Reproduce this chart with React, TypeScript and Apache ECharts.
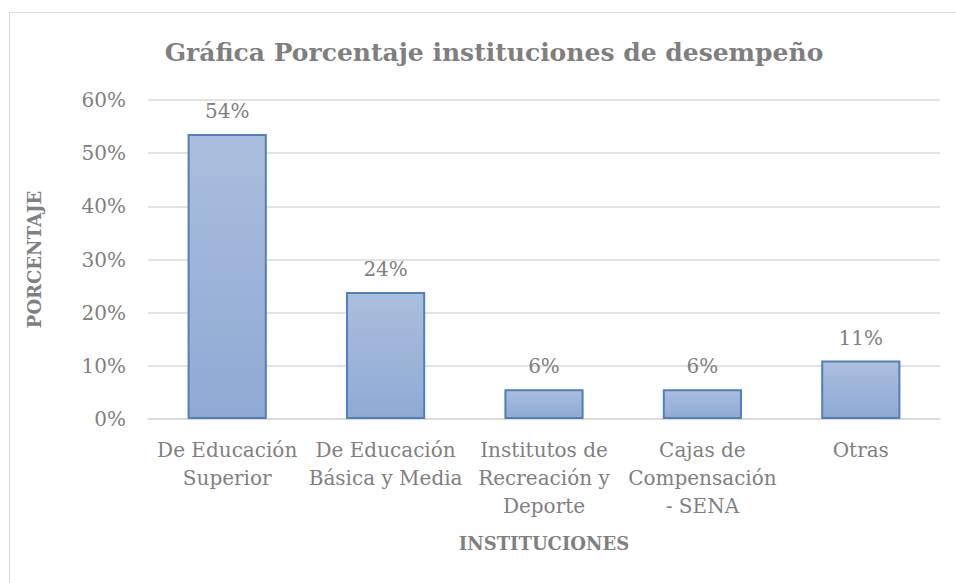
import React, { useEffect, useRef } from "react";
import * as echarts from "echarts";

const categories = [
  "De Educación\nSuperior",
  "De Educación\nBásica y Media",
  "Institutos de\nRecreación y\nDeporte",
  "Cajas de\nCompensación\n- SENA",
  "Otras",
];
const values = [53.6, 23.9, 5.6, 5.6, 11.0];
const yTicks = [0, 10, 20, 30, 40, 50, 60];

const FONT = "'DejaVu Serif', serif";
const GRAY = "#808080";

export default function App() {
  const ref = useRef<HTMLDivElement>(null);
  useEffect(() => {
    if (!ref.current) return;
    const chart = echarts.init(ref.current, undefined, { renderer: "svg" });
    chart.setOption({
      animation: false,
      backgroundColor: "#ffffff",
      title: {
        text: "Gráfica Porcentaje instituciones de desempeño",
        left: 489,
        top: 35,
        textAlign: "center",
        textStyle: { fontFamily: FONT, fontWeight: "bold", fontSize: 25, color: "#7f7f7f" },
      },
      graphic: [
        {
          type: "rect",
          shape: { x: 9.5, y: 12.5, width: 1000, height: 1000 },
          style: { fill: "none", stroke: "#d9d9d9", lineWidth: 1 },
          silent: true,
        },
      ],
      grid: { left: 148, right: 16, top: 100, bottom: 164, containLabel: false },
      xAxis: {
        type: "category",
        data: categories,
        name: "INSTITUCIONES",
        nameLocation: "middle",
        nameGap: 115,
        nameTextStyle: { fontFamily: FONT, fontWeight: "bold", fontSize: 18, color: GRAY },
        axisLine: { show: true, lineStyle: { color: "#d9d9d9", width: 1.5 } },
        axisTick: { show: false },
        axisLabel: {
          interval: 0,
          margin: 17,
          fontFamily: FONT,
          fontSize: 20,
          lineHeight: 28,
          color: GRAY,
          align: "center",
        },
      },
      yAxis: {
        type: "value",
        min: yTicks[0],
        max: yTicks[yTicks.length - 1],
        interval: 10,
        name: "PORCENTAJE",
        nameLocation: "middle",
        nameGap: 105,
        nameTextStyle: { fontFamily: FONT, fontWeight: "bold", fontSize: 18, color: GRAY },
        axisLine: { show: false },
        axisTick: { show: false },
        splitLine: { lineStyle: { color: "#d9d9d9", width: 1.5 } },
        axisLabel: {
          margin: 22,
          fontFamily: FONT,
          fontSize: 20,
          color: GRAY,
          formatter: (v: number) => `${v}%`,
        },
      },
      series: [
        {
          type: "bar",
          data: values,
          barCategoryGap: "50%",
          itemStyle: {
            color: new echarts.graphic.LinearGradient(0, 0, 0, 1, [
              { offset: 0, color: "#abbedd" },
              { offset: 1, color: "#8eaad4" },
            ]),
            borderColor: "#4f7fbf",
            borderWidth: 2,
          },
          label: {
            show: true,
            position: "top",
            distance: 13,
            fontFamily: FONT,
            fontSize: 20,
            color: GRAY,
            formatter: (p: any) => `${Math.round(p.value)}%`,
          },
        },
      ],
    });
    return () => chart.dispose();
  }, []);
  return (
    <div
      ref={ref}
      style={{ position: "fixed", left: 0, top: 0, width: 956, height: 583 }}
    />
  );
}
